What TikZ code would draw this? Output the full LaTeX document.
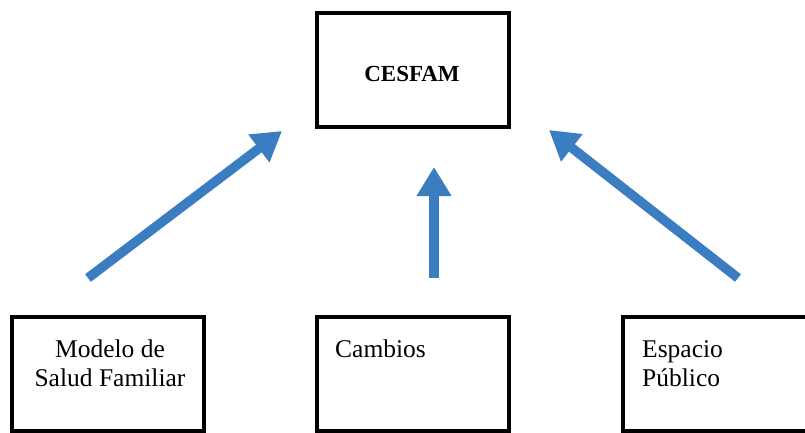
\documentclass[tikz,border=0pt]{standalone}
\usepackage{fontspec}
\setmainfont{Liberation Serif}
\usetikzlibrary{arrows.meta,positioning}
\definecolor{flecha}{RGB}{58,125,193}

\begin{document}
\begin{tikzpicture}[x=1pt, y=-1pt, >={Triangle[width=33pt,length=29pt]},
   caja/.style={draw, line width=4pt, minimum width=192pt, minimum height=114pt, inner sep=0pt},
   texto/.style={inner sep=0pt, font=\fontsize{25.5}{29}\selectfont},
   flechaazul/.style={->, draw=flecha, fill=flecha, line width=9.5pt}]
  \useasboundingbox (0,0) rectangle (805,432);
  % caja superior
  \node[caja] (cesfam) at (412.5,70) {};
  \node[texto, font=\fontsize{23}{29}\selectfont\bfseries] (cesfamtxt) at (412,74) {CESFAM};
  % cajas inferiores
  \node[caja] (salud) at (107.5,373.5) {};
  \node[caja] (cambios) at (412.5,373.5) {};
  \node[caja] (espacio) at (718.5,373.5) {};
  \node[texto, align=center, anchor=north] (saludtxt) at (110,340) {Modelo de\\Salud Familiar};
  \node[texto, anchor=base west] (cambiostxt) at (335,357) {Cambios};
  \node[texto, align=left, anchor=north west] (espaciotxt) at (642,340) {Espacio\\Público};
  % flechas
  \coordinate (c1) at (88,278);
  \coordinate (c2) at (282,131);
  \coordinate (c3) at (434,278);
  \coordinate (c4) at (434,167);
  \coordinate (c5) at (738,278);
  \coordinate (c6) at (549,130);
  \path[flechaazul] (c1) -- (c2);
  \path[flechaazul] (c3) -- (c4);
  \path[flechaazul] (c5) -- (c6);
\end{tikzpicture}
\end{document}
